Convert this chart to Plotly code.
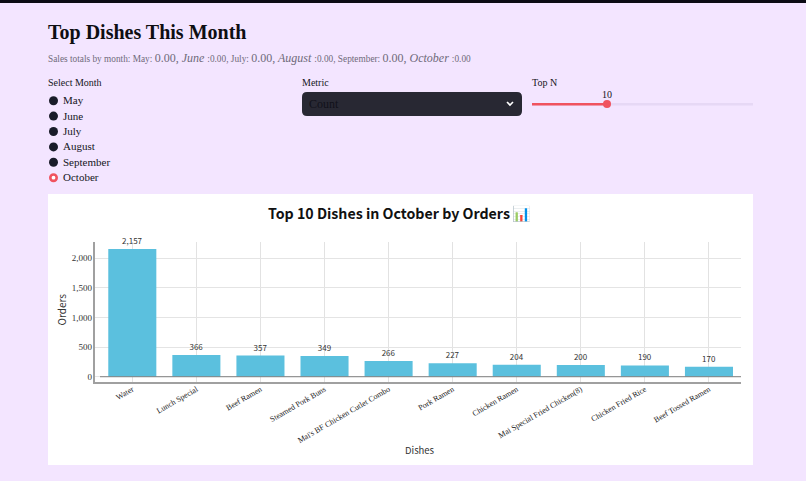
import plotly.graph_objects as go

W, H = 806, 481

dishes = ["Water", "Lunch Special", "Beef Ramen", "Steamed Pork Buns",
          "Mai's BF Chicken Cutlet Combo", "Pork Ramen", "Chicken Ramen",
          "Mai Special Fried Chicken(8)", "Chicken Fried Rice", "Beef Tossed Ramen"]
orders = [2157, 366, 357, 349, 266, 227, 204, 200, 190, 170]
months = ["May", "June", "July", "August", "September", "October"]
selected_month = "October"
y_ticks = [0, 500, 1000, 1500, 2000]
top_n = 10

SERIF = "Liberation Serif"
SANS = "Noto Sans CJK SC"
INK = "#15151c"


def px(x):
    return x / W


def py(y):
    return 1 - y / H


def text(x, y, s, size, color=INK, family=SERIF, xanchor="left", **kw):
    # annotations carry about 2px of internal padding on their anchored side
    shift = -2 if xanchor == "left" else 0
    return dict(x=px(x), y=py(y), xref="paper", yref="paper", text=s, showarrow=False,
                xanchor=xanchor, yanchor="middle", align="left", xshift=shift,
                font=dict(size=size, color=color, family=family), **kw)


def box(x0, y0, x1, y1, fill):
    return dict(type="rect", xref="paper", yref="paper", x0=px(x0), x1=px(x1),
                y0=py(y0), y1=py(y1), fillcolor=fill, line_width=0, layer="below")


def dot(cx, cy, r, fill, line_color=None, line_width=0):
    return dict(type="circle", xref="paper", yref="paper", x0=px(cx - r), x1=px(cx + r),
                y0=py(cy + r), y1=py(cy - r), fillcolor=fill,
                line=dict(color=line_color or fill, width=line_width), layer="below")


def rounded(x0, y0, x1, y1, r, fill):
    c = lambda x, y: f"{px(x):.5f},{py(y):.5f}"
    path = (f"M {c(x0 + r, y0)} L {c(x1 - r, y0)} Q {c(x1, y0)} {c(x1, y0 + r)} "
            f"L {c(x1, y1 - r)} Q {c(x1, y1)} {c(x1 - r, y1)} "
            f"L {c(x0 + r, y1)} Q {c(x0, y1)} {c(x0, y1 - r)} "
            f"L {c(x0, y0 + r)} Q {c(x0, y0)} {c(x0 + r, y0)} Z")
    return dict(type="path", xref="paper", yref="paper", path=path,
                fillcolor=fill, line_width=0, layer="below")


def polyline(points, color, width):
    path = "M " + " L ".join(f"{px(x):.5f},{py(y):.5f}" for x, y in points)
    return dict(type="path", xref="paper", yref="paper", path=path,
                line=dict(color=color, width=width), layer="below")


shapes = [
    box(0, 0, W, 3, "#0b0b14"),
    box(48, 194, 753, 465, "#ffffff"),
    rounded(302, 92, 522, 116, 5, "#282833"),
    polyline([(507, 102), (510, 105), (513, 102)], "#ffffff", 1.6),
    box(532, 103, 753, 105.5, "#e6d8f5"),
    box(532, 103, 607, 105.5, "#f0535f"),
    dot(607, 104, 4, "#f0535f"),
    # baseline at zero begins just clear of the y axis
    dict(type="line", xref="paper", yref="y", x0=px(100), x1=px(741), y0=0, y1=0,
         line=dict(color="#808080", width=1), layer="above"),
]

big = '<span style="font-size:12px">'
summary = (
    f'Sales totals by month: May: {big}0.00,</span>{big}<i> June </i></span>:0.00, '
    f'July: {big}0.00,</span>{big}<i> August </i></span>:0.00, '
    f'September: {big}0.00,</span>{big}<i> October </i></span>:0.00'
)

annotations = [
    text(48, 32, "<b>Top Dishes This Month</b>", 20, "#0e0e12"),
    text(48, 58.5, summary, 9.3, "#6f6a7a"),
    text(48, 82, "Select Month", 10),
    text(302, 82, "Metric", 10),
    text(532, 82, "Top N", 10),
    text(309, 104, "Count", 12, "#11111a"),
    text(607, 94.5, str(top_n), 10, xanchor="center"),
    text(389, 213, "<b>Top 10 Dishes in October by Orders</b>", 14.2, "#111111",
         family=SANS, xanchor="center"),
    text(521.5, 213, "📊", 15, family=SANS, xanchor="center"),
    text(420.5, 449.5, "Dishes", 9.5, "#333333", family=SANS, xanchor="center"),
    text(61, 309.5, "Orders", 10, "#333333", family=SANS, xanchor="center", textangle=-90),
]

for i, month in enumerate(months):
    cy = 100.7 + i * 15.4
    if month == selected_month:
        shapes.append(dot(53.5, cy, 3.2, "#ffffff", "#f0535f", 2.6))
    else:
        shapes.append(dot(53.5, cy, 4.5, "#191b29"))
    annotations.append(text(63, cy - 0.6, month, 11))

fig = go.Figure(go.Bar(
    x=dishes, y=orders, marker=dict(color="#5bc0de", line_width=0),
    texttemplate="%{y:,}", textposition="outside", cliponaxis=False,
    textfont=dict(size=8, color="#333333", family=SANS),
))

fig.update_layout(
    width=W, height=H, margin=dict(l=0, r=0, t=0, b=0),
    paper_bgcolor="#f3e5ff", plot_bgcolor="rgba(0,0,0,0)",
    showlegend=False, bargap=0.25, shapes=shapes, annotations=annotations,
    xaxis=dict(
        domain=[px(94.5), px(741)], range=[-0.59, 9.5], type="category",
        tickangle=-30, tickfont=dict(size=8, color="#222222", family=SERIF),
        showgrid=True, gridcolor="#e2e2e2", gridwidth=1, ticks="", ticklabelstandoff=-2,
        showline=True, linecolor="#a0a0a0", linewidth=2,
    ),
    yaxis=dict(
        domain=[py(381.7), py(242)], range=[-84, 2275], tickvals=y_ticks,
        tickformat=",", tickfont=dict(size=9, color="#333333", family=SERIF),
        showgrid=True, gridcolor="#e4e4e4", gridwidth=1, ticks="", ticklabelstandoff=-1,
        zeroline=False,
        showline=True, linecolor="#a0a0a0", linewidth=1.5,
    ),
)

fig.write_html("out.html", config=dict(displayModeBar=False))
